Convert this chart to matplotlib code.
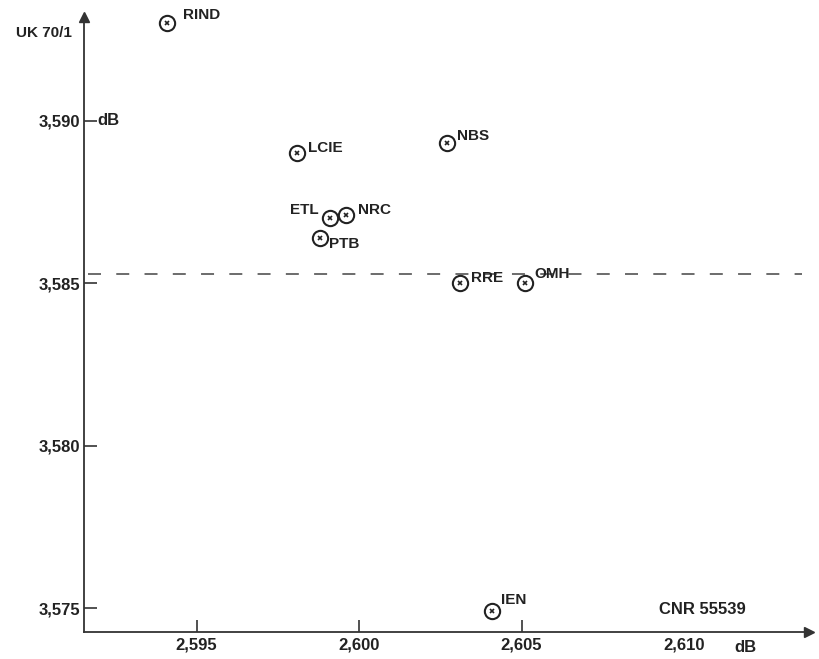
import numpy as np
import matplotlib
matplotlib.use('Agg')
import matplotlib.pyplot as plt

# laboratory results, CNR 55539 (x) vs UK 70/1 (y), dB
labs = ['RIND', 'LCIE', 'NBS', 'ETL', 'NRC', 'PTB', 'RRE', 'OMH', 'IEN']
cnr = [2.5941, 2.5981, 2.6027, 2.5991, 2.5996, 2.5988, 2.6031, 2.6051, 2.6041]
uk = [3.5930, 3.5890, 3.5893, 3.5870, 3.5871, 3.5864, 3.5850, 3.5850, 3.5749]
mean_uk = 3.58528

xticks = [2.595, 2.600, 2.605, 2.610]
xticklabels = ['2,595', '2,600', '2,605', '2,610']
yticks = [3.575, 3.580, 3.585, 3.590]
yticklabels = ['3,575', '3,580', '3,585', '3,590']

# label placement relative to the marker (pixels), and alignment
label_offsets = [(16, 8), (11, 5), (10, 7), (-11, 8), (12, 5), (9, -6), (11, 5), (10, 9), (9, 11)]
label_ha = ['left', 'left', 'left', 'right', 'left', 'left', 'left', 'left', 'left']

ink = '#222222'
plt.rcParams['font.family'] = ['Liberation Sans', 'DejaVu Sans']

fig = plt.figure(figsize=(8.19, 6.59), dpi=100)
# axis box: left x=84px, bottom y=632px, arrow tips near x=809 / y=17
ax = fig.add_axes([84/819., 27/659., 725/819., 615/659.])

ax.set_xlim(2.591538, 2.613846)
ax.set_ylim(3.574262, 3.593185)

for s in ['top', 'right']:
    ax.spines[s].set_visible(False)
for s in ['left', 'bottom']:
    ax.spines[s].set_color('#333333')
    ax.spines[s].set_linewidth(1.3)

# arrow heads on the axes
ax.plot(1, 0, '>', color='#333333', markersize=7, transform=ax.transAxes, clip_on=False)
ax.plot(0, 1, '^', color='#333333', markersize=7, transform=ax.transAxes, clip_on=False)

ax.set_xticks(xticks)
ax.set_xticklabels(xticklabels)
ax.set_yticks(yticks)
ax.set_yticklabels(yticklabels)
ax.tick_params(axis='both', direction='in', length=9, width=1.2, color='#333333',
               labelsize=12, labelcolor=ink, pad=4)
ax.tick_params(axis='y', pad=3)
ax.xaxis.get_major_ticks()[-1].tick1line.set_visible(False)
for t in ax.get_xticklabels() + ax.get_yticklabels():
    t.set_fontweight('bold')

# mean line
ax.axhline(mean_uk, xmin=0.005, xmax=0.99, color='#444444', lw=1.1, dashes=(8.5, 10))

# points: circled x
ax.plot(cnr, uk, 'o', markersize=11, markerfacecolor='white', markeredgecolor=ink,
        markeredgewidth=1.5, linestyle='none', zorder=3, clip_on=False)
ax.plot(cnr, uk, 'x', markersize=3.5, color=ink, markeredgewidth=1.2, linestyle='none',
        zorder=4, clip_on=False)

for name, xv, yv, off, ha in zip(labs, cnr, uk, label_offsets, label_ha):
    ax.annotate(name, (xv, yv), xytext=off, textcoords='offset pixels',
                ha=ha, va='center', fontsize=11, fontweight='bold', color=ink)

# axis captions
ax.annotate('UK 70/1', (0, 1), xycoords='axes fraction', xytext=(-12, -16),
            textcoords='offset pixels', ha='right', va='center', fontsize=11,
            fontweight='bold', color=ink)
ax.annotate('dB', (0, 3.590), xycoords=ax.get_yaxis_transform(), xytext=(13, 0),
            textcoords='offset pixels', ha='left', va='center', fontsize=12,
            fontweight='bold', color=ink)
ax.annotate('dB', (2.610, 0), xycoords=ax.get_xaxis_transform(), xytext=(61, -15),
            textcoords='offset pixels', ha='center', va='center', fontsize=12,
            fontweight='bold', color=ink)
ax.annotate('CNR 55539', (2.610, 0), xycoords=ax.get_xaxis_transform(), xytext=(18, 23),
            textcoords='offset pixels', ha='center', va='center', fontsize=12,
            fontweight='bold', color=ink)

fig.savefig('out.png', dpi=100)
